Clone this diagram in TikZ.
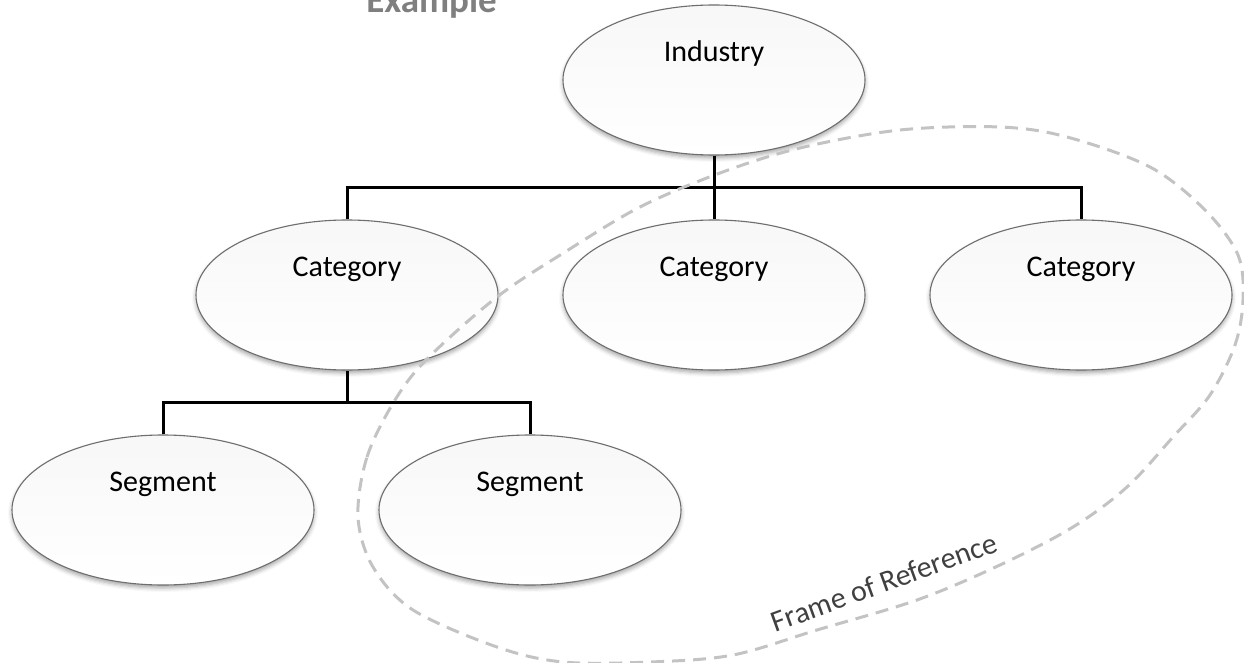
\documentclass[tikz,border=0pt]{standalone}
\usepackage{fontspec}
\setmainfont{Carlito}
\usetikzlibrary{shapes.geometric,shadows.blur}
\definecolor{bordergray}{HTML}{6E6E6E}
\definecolor{dashgray}{HTML}{C3C3C3}
\definecolor{framegray}{HTML}{404040}
\definecolor{examplegray}{HTML}{7F7F7F}
\tikzset{
  ell/.style={ellipse, draw=bordergray, line width=1.1pt,
    minimum width=302pt, minimum height=150pt, inner sep=0pt,
    top color=gray!6, bottom color=white,
    blur shadow={shadow xshift=0pt, shadow yshift=-3pt, shadow blur radius=4pt, shadow opacity=35}},
  elltext/.style={anchor=base, yshift=26pt, font=\fontsize{30}{36}\selectfont, text=black},
  conn/.style={draw=black, line width=3pt},
  frameline/.style={draw=dashgray, line width=3pt, dash pattern=on 13pt off 8pt}
}
\begin{document}
\begin{tikzpicture}[x=1pt,y=-1pt]
\useasboundingbox (0,0) rectangle (1244,663);
% title (cut off at top)
\node[anchor=base east, inner sep=0pt, text=examplegray, font=\fontsize{37}{44}\selectfont\bfseries] (ex) at (497,13) {Example};
% nodes
\node[ell, label={[elltext]center:Industry}] (ind) at (714,80) {};
\node[ell, label={[elltext]center:Category}] (cat1) at (347,295) {};
\node[ell, label={[elltext]center:Category}] (cat2) at (714,295) {};
\node[ell, label={[elltext]center:Category}] (cat3) at (1081,295) {};
\node[ell, label={[elltext]center:Segment}] (seg1) at (163,510) {};
\node[ell, label={[elltext]center:Segment}] (seg2) at (530,510) {};
% connectors
\coordinate (bus1) at (714,188);
\coordinate (bus2) at (347,402);
\draw[conn] (ind.south) -- (cat2.north);
\draw[conn] (cat1.north) |- (bus1) -| (cat3.north);
\draw[conn] (cat1.south) -- (bus2);
\draw[conn] (seg1.north) |- (bus2) -| (seg2.north);
% frame of reference
\draw[frameline] plot[smooth cycle, tension=0.55] coordinates {
 (358,517) (367,457) (395,400) (428,358) (497,297) (565,252) (640,207)
 (720,173) (800,148) (900,130) (1000,127) (1067,137) (1150,167) (1205,210)
 (1238,255) (1243,300) (1235,345) (1210,395) (1173,437) (1127,487) (1073,527)
 (1000,565) (917,600) (817,630) (733,655) (650,662) (563,662) (497,647)
 (413,610) (373,567)};
\node[rotate=20, text=framegray, font=\fontsize{30}{36}\selectfont, inner sep=0pt] (fr) at (884,582) {Frame of Reference};
\end{tikzpicture}
\end{document}
